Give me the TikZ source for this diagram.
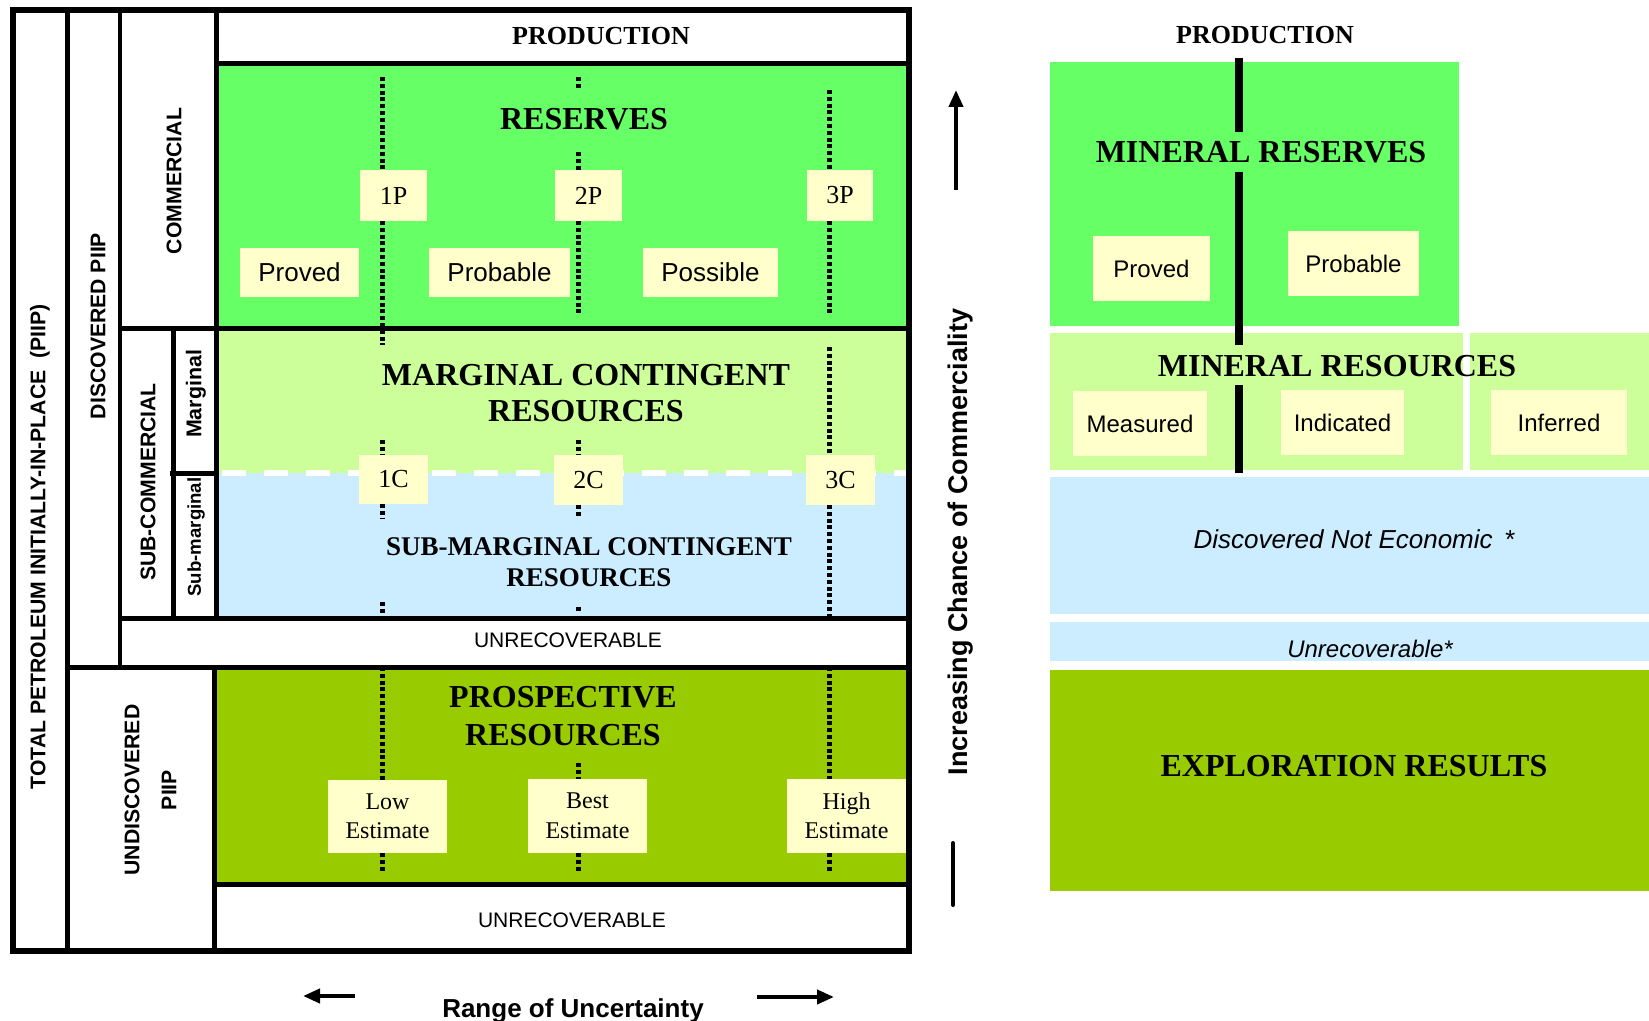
\documentclass[tikz,border=0pt]{standalone}
\usepackage{fontspec}
\setmainfont{Liberation Serif}
\setsansfont{Liberation Sans}
\usetikzlibrary{arrows.meta}
\definecolor{resgreen}{HTML}{66FF66}
\definecolor{marggreen}{HTML}{CCFF99}
\definecolor{subblue}{HTML}{CCECFF}
\definecolor{prosgreen}{HTML}{99CC00}
\definecolor{boxyellow}{HTML}{FFFFCC}
\newcommand\fsz[2]{\fontsize{#1pt}{#2pt}\selectfont}
% #1 style, #2 name, #3 x1, #4 y1, #5 x2, #6 y2, #7 text
\newcommand\ybx[7]{\node[ybox,#1,minimum width={(#5-#3)*0.5pt},minimum height={(#6-#4)*0.5pt}] (#2) at ({(#3+#5)/2},{(#4+#6)/2}) {#7};}
\begin{document}
\begin{tikzpicture}[x=0.5pt,y=-0.5pt,
  ybox/.style={fill=boxyellow, inner sep=0pt, align=center},
  numtxt/.style={font=\fsz{13}{15}},
  sanstxt/.style={font=\sffamily\fsz{13}{15}},
  esttxt/.style={font=\fsz{12}{14.75}},
  rsans/.style={font=\sffamily\fsz{12}{14}},
  bigtitle/.style={font=\bfseries\fsz{16}{18}, align=center},
  vlabel/.style={rotate=90, font=\sffamily\bfseries\fsz{10.6}{18.5}, align=center},
  dotline/.style={line width=2.5pt, dash pattern=on 2pt off 1.4pt},
  frame/.style={line width=2.5pt},
  midbar/.style={line width=3.75pt},
  axisarrow/.style={line width=2pt, -{Triangle[length=8.5pt,width=7pt]}}]
\useasboundingbox (0,0) rectangle (1649,1021);
% ---------- left fills
\fill[resgreen] (216,63) rectangle (909,329);
\fill[marggreen] (216,329) rectangle (909,473);
\fill[subblue] (216,473) rectangle (909,618);
\fill[prosgreen] (214,667) rectangle (909,884);
\draw[white, line width=2.6pt, dash pattern=on 12pt off 9pt] (222,473) -- (909,473);
% ---------- dotted lines
\foreach \a/\b in {77/170,221/345,440/455,504/518,602/615,667/780,853/872}
  \draw[dotline] (382.5,\a) -- (382.5,\b);
\foreach \a/\b in {77/90,152/170,221/315,440/455,505/517,607/613,763/779,853/871}
  \draw[dotline] (578,\a) -- (578,\b);
\foreach \a/\b in {90/170,221/315,347/455,505/617,667/779,853/871}
  \draw[dotline] (829.5,\a) -- (829.5,\b);
% ---------- left boxes
\ybx{numtxt}{b1p}{360}{170}{427}{221}{1P}
\ybx{numtxt}{b2p}{555}{170}{622}{221}{2P}
\ybx{numtxt}{b3p}{807}{170}{873}{221}{3P}
\ybx{sanstxt}{bproved}{240}{248}{359}{297}{Proved}
\ybx{sanstxt}{bprobable}{429}{248}{570}{297}{Probable}
\ybx{sanstxt}{bpossible}{643}{248}{778}{297}{Possible}
\ybx{numtxt}{b1c}{359}{455}{428}{504}{1C}
\ybx{numtxt}{b2c}{554}{455}{623}{505}{2C}
\ybx{numtxt}{b3c}{806}{455}{875}{505}{3C}
\ybx{esttxt}{blow}{328}{780}{447}{853}{Low\\Estimate}
\ybx{esttxt}{bbest}{528}{779}{647}{853}{Best\\Estimate}
\ybx{esttxt}{bhigh}{787}{779}{906}{853}{High\\Estimate}
% ---------- frame lines
\draw[line width=3pt] (13,10.5) rectangle (909,951);
\draw[frame] (67,10) -- (67,951);
\draw[line width=2.2pt] (120,10) -- (120,667);
\draw[frame] (216,10) -- (216,618);
\draw[frame] (214,667) -- (214,951);
\draw[frame] (216,63.5) -- (909,63.5);
\draw[frame] (120,329) -- (909,329);
\draw[frame] (173.5,329) -- (173.5,618);
\draw[frame] (170,473.5) -- (214,473.5);
\draw[frame] (120,618) -- (909,618);
\draw[frame] (67,667) -- (909,667);
\draw[frame] (214,884) -- (909,884);
% ---------- left texts
\node[anchor=base, font=\bfseries\fsz{13}{15}] (prodL) at (601,45) {PRODUCTION};
\node[anchor=base, font=\bfseries\fsz{16}{18}] (reserves) at (584,130) {RESERVES};
\node[bigtitle] (margtxt) at (586,393) {MARGINAL CONTINGENT\\RESOURCES};
\node[font=\bfseries\fsz{13.5}{15.5}, align=center] (subtxt) at (589,562.5) {SUB-MARGINAL CONTINGENT\\RESOURCES};
\node[anchor=base, font=\sffamily\fsz{10.5}{12}] (unrec1) at (568,647) {UNRECOVERABLE};
\node[font=\bfseries\fsz{16}{19}, align=center] (prostxt) at (563,716.5) {PROSPECTIVE\\RESOURCES};
\node[anchor=base, font=\sffamily\fsz{10.5}{12}] (unrec2) at (572,927) {UNRECOVERABLE};
\node[vlabel] (total) at (40,547) {TOTAL PETROLEUM INITIALLY-IN-PLACE\ \ (PIIP)};
\node[vlabel] (discov) at (98,326) {DISCOVERED PIIP};
\node[vlabel] (comm) at (174,181) {COMMERCIAL};
\node[vlabel] (subcomm) at (148,482) {SUB-COMMERCIAL};
\node[vlabel, font=\sffamily\bfseries\fsz{10.7}{12}] (marg) at (196,394) {Marginal};
\node[vlabel, font=\sffamily\bfseries\fsz{9.3}{11}] (submarg) at (196,537) {Sub-marginal};
\node[vlabel] (undisc) at (150.5,790) {UNDISCOVERED\\PIIP};
% ---------- uncertainty axis
\node[anchor=base, font=\sffamily\bfseries\fsz{13}{15}] (range) at (573,1017) {Range of Uncertainty};
\coordinate (la1) at (355,996); \coordinate (la2) at (303,996);
\coordinate (ra1) at (757,997); \coordinate (ra2) at (834,997);
\draw[axisarrow] (la1) -- (la2);
\draw[axisarrow] (ra1) -- (ra2);
% ---------- commerciality axis
\node[rotate=90, font=\sffamily\bfseries\fsz{13.5}{15}] (chance) at (960.5,542) {Increasing Chance of Commerciality};
\coordinate (ua1) at (956,190); \coordinate (ua2) at (956,90);
\draw[axisarrow] (ua1) -- (ua2);
\coordinate (lb1) at (953,843); \coordinate (lb2) at (953,905);
\draw[line width=2pt, line cap=round] (lb1) -- (lb2);
% ---------- right side fills
\fill[resgreen] (1050,62) rectangle (1459,326);
\fill[marggreen] (1050,333) rectangle (1463,470);
\fill[marggreen] (1470,333) rectangle (1649,470);
\fill[subblue] (1050,477) rectangle (1649,614);
\fill[subblue] (1050,622) rectangle (1649,661);
\fill[prosgreen] (1050,670) rectangle (1649,891);
\draw[midbar] (1239,58) -- (1239,132);
\draw[midbar] (1239,172) -- (1239,345);
\draw[midbar] (1239,385) -- (1239,473);
% ---------- right texts and boxes
\node[anchor=base, font=\bfseries\fsz{13}{15}] (prodR) at (1265,44) {PRODUCTION};
\node[anchor=base, font=\bfseries\fsz{16}{18}] (minres) at (1261,163) {MINERAL RESERVES};
\node[anchor=base, font=\bfseries\fsz{16}{18}] (minresc) at (1337,377) {MINERAL RESOURCES};
\ybx{rsans}{rproved}{1093}{236}{1210}{301}{Proved}
\ybx{rsans}{rprobable}{1288}{231}{1419}{296}{Probable}
\ybx{rsans}{rmeasured}{1073}{391}{1207}{456}{Measured}
\ybx{rsans}{rindicated}{1281}{390}{1404}{455}{Indicated}
\ybx{rsans}{rinferred}{1491}{390}{1627}{455}{Inferred}
\node[anchor=base, font=\sffamily\itshape\fsz{13}{15}] (dne) at (1354,548) {Discovered Not Economic~\,*};
\node[anchor=base, font=\sffamily\itshape\fsz{12}{14}] (runrec) at (1370,657.5) {Unrecoverable*};
\node[anchor=base, font=\bfseries\fsz{16}{18}] (explor) at (1354,776.6) {EXPLORATION RESULTS};
\end{tikzpicture}
\end{document}
